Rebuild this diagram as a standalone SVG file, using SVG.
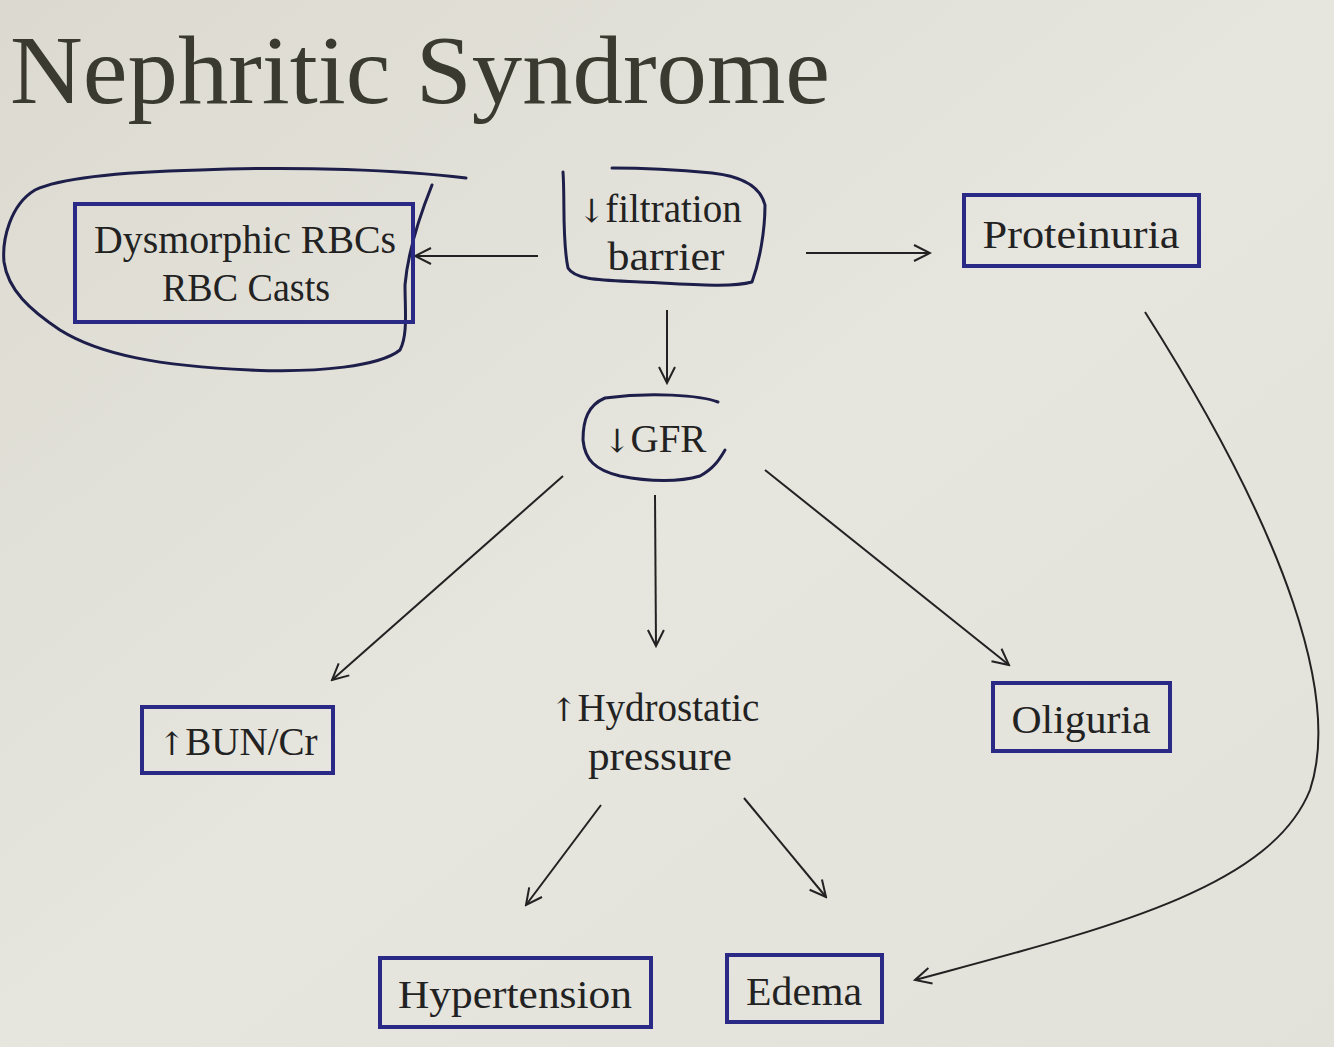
<svg xmlns="http://www.w3.org/2000/svg" width="1334" height="1047" viewBox="0 0 1334 1047">
<defs>
<marker id="ah" viewBox="0 0 20 20" refX="18" refY="10" markerWidth="20" markerHeight="20" markerUnits="userSpaceOnUse" orient="auto">
<path d="M2,2 L18,10 L2,18" fill="none" stroke="#222" stroke-width="2"/>
</marker>
<linearGradient id="bg" x1="0" y1="0" x2="1" y2="1">
<stop offset="0" stop-color="#dcdad0"/>
<stop offset="0.5" stop-color="#e6e5de"/>
<stop offset="1" stop-color="#e2e1da"/>
</linearGradient>
</defs>
<style>
.t{font-family:"Liberation Serif","DejaVu Serif",serif;fill:#222;font-size:39px;text-anchor:middle}
.a{font-family:"DejaVu Serif",serif;font-size:32px}
.box{fill:none;stroke:#2a2a86;stroke-width:4}
.hand{fill:none;stroke:#1e1e4a;stroke-width:3;stroke-linecap:round;stroke-linejoin:round}
.arr{fill:none;stroke:#222;stroke-width:2;marker-end:url(#ah)}
</style>
<rect width="1334" height="1047" fill="url(#bg)"/>
<text x="10" y="103" font-family="'Liberation Serif','DejaVu Serif',serif" font-size="98" fill="#3b3a30" textLength="820" lengthAdjust="spacingAndGlyphs">Nephritic Syndrome</text>

<g id="connectors">
<line class="arr" x1="538" y1="256" x2="415" y2="256"/>
<line class="arr" x1="806" y1="253" x2="930" y2="253"/>
<line class="arr" x1="667" y1="310" x2="667" y2="383"/>
<line class="arr" x1="563" y1="476" x2="332" y2="680"/>
<line class="arr" x1="655" y1="495" x2="656" y2="646"/>
<line class="arr" x1="765" y1="470" x2="1009" y2="665"/>
<line class="arr" x1="601" y1="805" x2="526" y2="905"/>
<line class="arr" x1="744" y1="798" x2="826" y2="897"/>
<path class="arr" d="M1145,312 C1290,540 1340,700 1310,790 C1270,890 1100,930 915,980"/>
</g>

<g id="dysmorphic">
<path class="hand" d="M466,178 C400,170 300,166 200,170 C120,172 60,178 35,190 C10,205 2,240 4,262 C8,290 30,310 60,330 C100,355 160,366 250,370 C320,373 380,366 400,350 C408,335 405,310 405,285 C408,250 420,215 432,185"/>
<rect class="box" x="75" y="204" width="338" height="118"/>
<text class="t" x="245" y="253" textLength="302" lengthAdjust="spacingAndGlyphs">Dysmorphic RBCs</text>
<text class="t" x="246" y="301" textLength="168" lengthAdjust="spacingAndGlyphs">RBC Casts</text>
</g>

<g id="filtration">
<path class="hand" d="M563,172 C565,200 562,240 568,268 C575,280 600,280 640,282 C690,284 730,288 752,282 C760,260 765,230 765,205 C760,185 740,176 712,173 C680,170 640,168 612,168"/>
<text class="t" x="660" y="222"><tspan class="a">↓</tspan>filtration</text>
<text class="t" x="666" y="270" textLength="117" lengthAdjust="spacingAndGlyphs">barrier</text>
</g>

<g id="proteinuria">
<rect class="box" x="964" y="195" width="235" height="71"/>
<text class="t" x="1081" y="248" textLength="197" lengthAdjust="spacingAndGlyphs">Proteinuria</text>
</g>

<g id="gfr">
<path class="hand" d="M718,402 C700,395 650,392 605,398 C588,405 583,420 583,440 C585,460 595,470 620,476 C650,482 680,482 700,476 C715,468 720,458 725,450"/>
<text class="t" x="655" y="452"><tspan class="a">↓</tspan>GFR</text>
</g>

<g id="bun">
<rect class="box" x="142" y="707" width="191" height="66"/>
<text class="t" x="238" y="755"><tspan class="a">↑</tspan>BUN/Cr</text>
</g>

<g id="hydrostatic">
<text class="t" x="655" y="721"><tspan class="a">↑</tspan>Hydrostatic</text>
<text class="t" x="660" y="770" textLength="144" lengthAdjust="spacingAndGlyphs">pressure</text>
</g>

<g id="oliguria">
<rect class="box" x="993" y="683" width="177" height="68"/>
<text class="t" x="1081" y="733" textLength="139" lengthAdjust="spacingAndGlyphs">Oliguria</text>
</g>

<g id="hypertension">
<rect class="box" x="380" y="958" width="271" height="69"/>
<text class="t" x="515" y="1008" textLength="234" lengthAdjust="spacingAndGlyphs">Hypertension</text>
</g>

<g id="edema">
<rect class="box" x="727" y="955" width="155" height="67"/>
<text class="t" x="804" y="1005" textLength="116" lengthAdjust="spacingAndGlyphs">Edema</text>
</g>
</svg>
